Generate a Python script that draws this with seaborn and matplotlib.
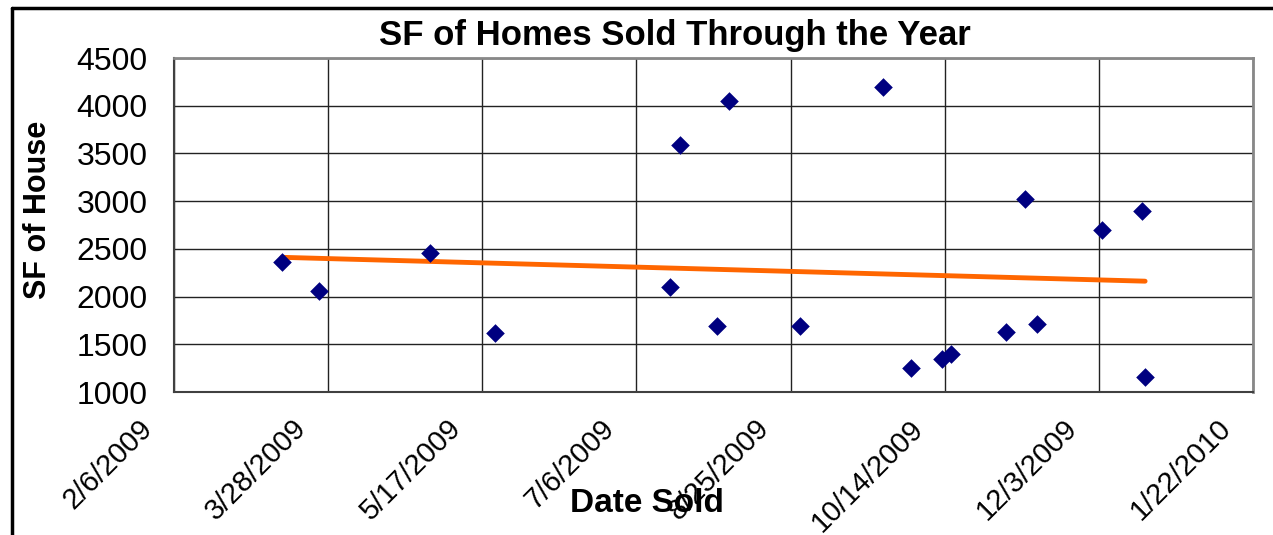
import pandas as pd
import numpy as np
import matplotlib
matplotlib.use('Agg')
import matplotlib.pyplot as plt
import matplotlib.dates as mdates
import matplotlib.transforms as mtransforms
from matplotlib.lines import Line2D
import seaborn as sns

# Sale dates and square footage
dates_sold = ["2009-03-13", "2009-03-25", "2009-04-30", "2009-05-21",
              "2009-07-17", "2009-07-20", "2009-08-01", "2009-08-05",
              "2009-08-28", "2009-09-24", "2009-10-03", "2009-10-13",
              "2009-10-16", "2009-11-03", "2009-11-09", "2009-11-13",
              "2009-12-04", "2009-12-17", "2009-12-18"]
sf_values = [2360, 2060, 2460, 1620,
             2100, 3590, 1690, 4050,
             1690, 4200, 1255, 1350,
             1400, 1630, 3020, 1715,
             2700, 2900, 1155]

tick_dates = ["2009-02-06", "2009-03-28", "2009-05-17", "2009-07-06",
              "2009-08-25", "2009-10-14", "2009-12-03", "2010-01-22"]
tick_labels = ["2/6/2009", "3/28/2009", "5/17/2009", "7/6/2009",
               "8/25/2009", "10/14/2009", "12/3/2009", "1/22/2010"]
y_ticks = [1000, 1500, 2000, 2500, 3000, 3500, 4000, 4500]

df = pd.DataFrame({'date': pd.to_datetime(dates_sold), 'sf': sf_values})
df['num'] = mdates.date2num(df['date'])

sns.set_style('white')
plt.rcParams['font.family'] = ['Liberation Sans', 'DejaVu Sans']
plt.rcParams['text.color'] = 'black'
plt.rcParams['xtick.color'] = 'black'
plt.rcParams['ytick.color'] = 'black'

fig = plt.figure(figsize=(12.73, 5.35), dpi=100)
ax = fig.add_axes([174/1273, 1 - 392/535, (1253 - 174)/1273, (392 - 58)/535])

sns.scatterplot(data=df, x='num', y='sf', marker='D', s=90, color='#000080',
                edgecolor='#000080', linewidth=0, ax=ax, zorder=3)
sns.regplot(data=df, x='num', y='sf', scatter=False, ci=None, ax=ax,
            line_kws={'color': '#FF6600', 'linewidth': 3.5, 'zorder': 2,
                      'solid_capstyle': 'round'})

tick_nums = mdates.date2num(pd.to_datetime(tick_dates))
ax.set_xlim(tick_nums[0], tick_nums[-1])
ax.set_ylim(1000, 4500)
ax.set_xticks(tick_nums)
ax.set_xticklabels(tick_labels, rotation=45, ha='right', va='center',
                   rotation_mode='anchor', fontsize=21)
ax.set_yticks(y_ticks)
ax.set_yticklabels([str(v) for v in y_ticks], fontsize=23)
ax.tick_params(axis='y', length=11, width=1, color='#404040', pad=8)
ax.tick_params(axis='x', length=8, width=1, color='#404040', pad=0)

# shift the date labels down-left like the original
shift = mtransforms.ScaledTranslation(-0.26, -0.21, fig.dpi_scale_trans)
for lbl in ax.get_xticklabels():
    lbl.set_transform(lbl.get_transform() + shift)

ax.grid(True, color='#222222', linewidth=1)
ax.set_axisbelow(True)

for side in ['left', 'bottom']:
    ax.spines[side].set_color('#404040')
    ax.spines[side].set_linewidth(1.5)
for side in ['top', 'right']:
    ax.spines[side].set_color('#888888')
    ax.spines[side].set_linewidth(2)

ax.set_xlabel('')
ax.set_ylabel('')
fig.text(675/1273, 1 - 36/535, 'SF of Homes Sold Through the Year',
         ha='center', va='center', fontsize=25, fontweight='bold')
fig.text(647/1273, 1 - 503/535, 'Date Sold', ha='center', va='center',
         fontsize=24, fontweight='bold')
fig.text(38/1273, 1 - 210/535, 'SF of House', ha='center', va='center',
         rotation=90, fontsize=22, fontweight='bold')

# outer chart frame
fig.add_artist(Line2D([12/1273, 12/1273], [0, 1 - 8/535], color='black',
                      linewidth=2.5, transform=fig.transFigure))
fig.add_artist(Line2D([12/1273, 1], [1 - 8/535, 1 - 8/535], color='black',
                      linewidth=2.5, transform=fig.transFigure))

fig.savefig('out.png', dpi=100)
